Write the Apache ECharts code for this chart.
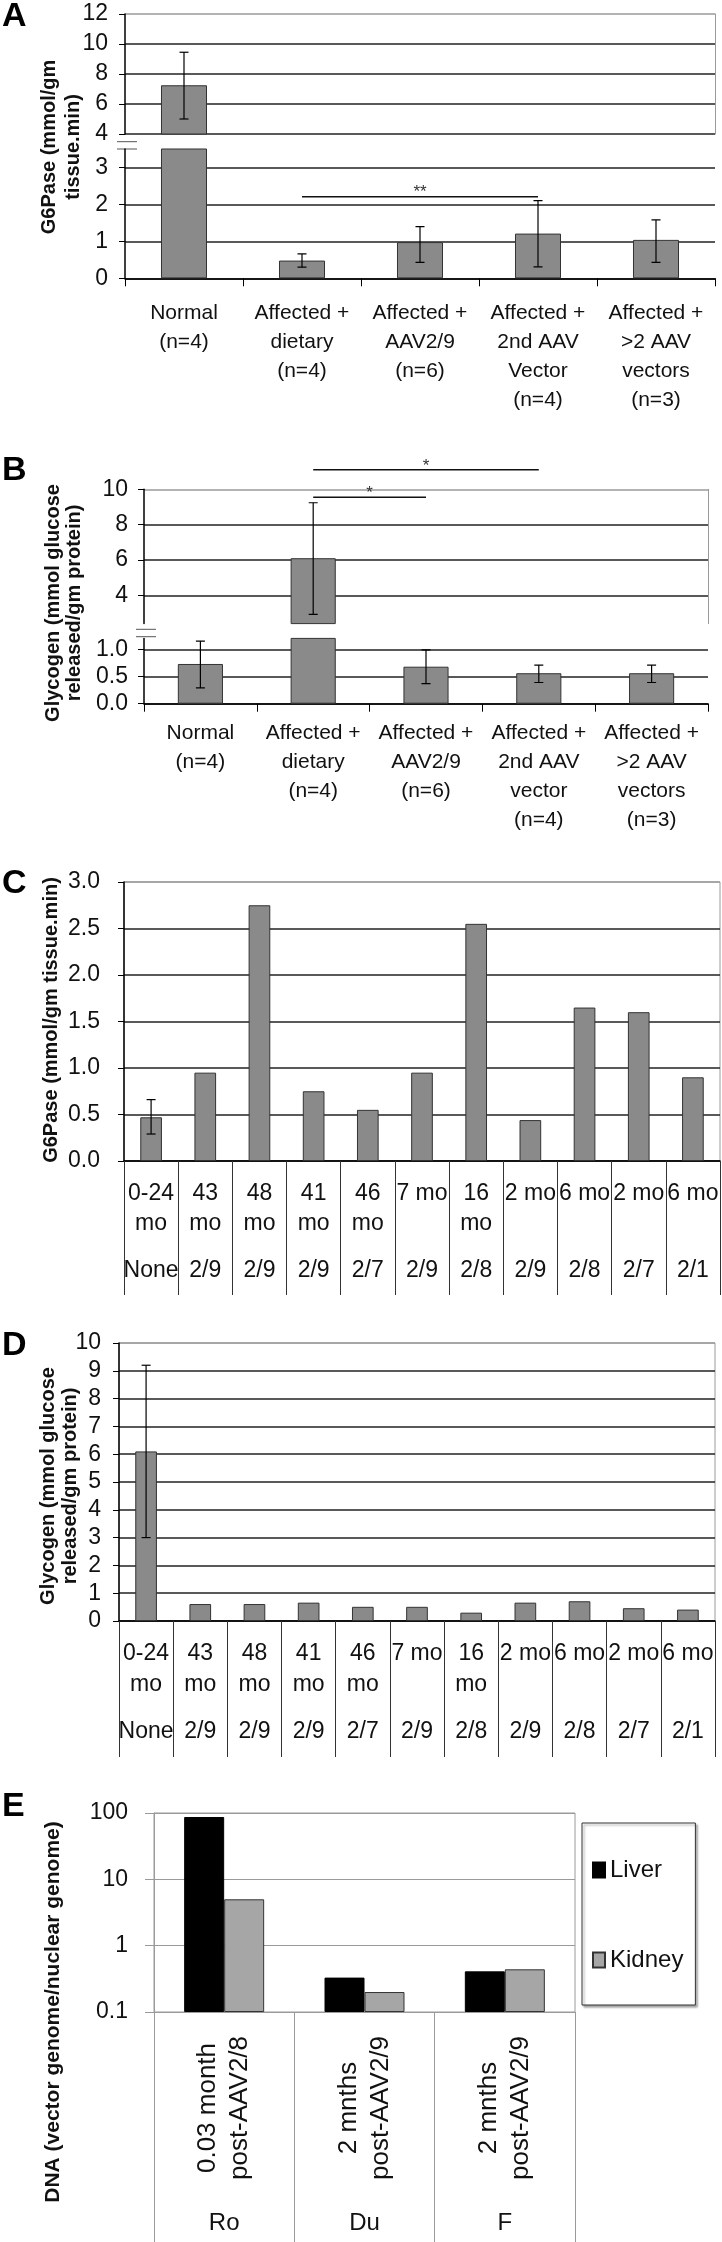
<!DOCTYPE html>
<html><head><meta charset="utf-8">
<script src="https://cdn.jsdelivr.net/npm/echarts@6/dist/echarts.min.js"></script>
<style>html,body{margin:0;padding:0;background:#fff}#c{width:722px;height:2242px}</style>
</head><body><div id="c"></div>
<script>
// ---------- DATA ----------
// Panel A: G6Pase
const groupsA = ['Normal\n(n=4)','Affected +\ndietary\n(n=4)','Affected +\nAAV2/9\n(n=6)','Affected +\n2nd AAV\nVector\n(n=4)','Affected +\n>2 AAV\nvectors\n(n=3)'];
const g6paseA = [7.25, 0.48, 0.98, 1.21, 1.04];
const g6paseA_low = [5.0, 0.30, 0.43, 0.31, 0.43];
const g6paseA_high = [9.45, 0.66, 1.40, 2.10, 1.58];
const sigA = [[1, 3, 2.21]];
const sigA_labels = ['**'];
const ticksA_upper = [4, 6, 8, 10, 12];
const ticksA_lower = [0, 1, 2, 3];
// Panel B: Glycogen
const groupsB = ['Normal\n(n=4)','Affected +\ndietary\n(n=4)','Affected +\nAAV2/9\n(n=6)','Affected +\n2nd AAV\nvector\n(n=4)','Affected +\n>2 AAV\nvectors\n(n=3)'];
const glycoB = [0.73, 6.1, 0.68, 0.56, 0.56];
const glycoB_low = [0.29, 2.92, 0.37, 0.39, 0.39];
const glycoB_high = [1.15, 9.24, 0.99, 0.71, 0.71];
const sigB = [[1, 3, 11.1], [1, 2, 9.55]];
const sigB_labels = ['*', '*'];
const ticksB_upper = [4, 6, 8, 10];
const ticksB_lower = [0, 0.5, 1.0];
// Panel C: G6Pase per animal
const agesCD = ['0-24\nmo','43\nmo','48\nmo','41\nmo','46\nmo','7 mo','16\nmo','2 mo','6 mo','2 mo','6 mo'];
const vectorsCD = ['None','2/9','2/9','2/9','2/7','2/9','2/8','2/9','2/8','2/7','2/1'];
const g6paseC = [0.47, 0.95, 2.75, 0.75, 0.55, 0.95, 2.55, 0.44, 1.65, 1.60, 0.90];
const errC_index = [0], errC_low = [0.29], errC_high = [0.66];
// Panel D: Glycogen per animal
const glycoD = [6.1, 0.61, 0.61, 0.66, 0.51, 0.51, 0.30, 0.66, 0.71, 0.46, 0.41];
const errD_index = [0], errD_low = [3.0], errD_high = [9.2];
// Panel E: vector DNA
const periodsE = ['0.03 month\npost-AAV2/8', '2 mnths\npost-AAV2/9', '2 mnths\npost-AAV2/9'];
const subjectsE = ['Ro', 'Du', 'F'];
const liverE = [87, 0.33, 0.41];
const kidneyE = [5.0, 0.20, 0.44];

// ---------- STYLE / LAYOUT ----------
const FONT = '"Liberation Sans", Arial, Helvetica, sans-serif';
const BAR = '#8a8a8a', BARB = '#333';
const GL = '#222', GR = '#9a9a9a';
const G = {
  Aup: {left:125, top:14, width:590, height:120},
  Alo: {left:125, top:149, width:590, height:129.3},
  Bup: {left:144, top:489.3, width:564, height:134.3},
  Blo: {left:144, top:638.4, width:564, height:65.3},
  C:   {left:124, top:882, width:596, height:279},
  D:   {left:119, top:1343, width:596, height:278},
  E:   {left:154, top:1813, width:421, height:199}
};
function grid(g, border){ return Object.assign({outerBoundsMode:'none', containLabel:false, show:!!border, borderColor:GR, borderWidth:1, backgroundColor:'transparent'}, g); }

function catAxis(gi, data, opt){
  return Object.assign({type:'category', gridIndex:gi, data:data, position:'bottom',
    axisLine:{show:true, onZero:false, lineStyle:{color:'#000', width:1.5}},
    axisTick:{show:true, length:8, lineStyle:{color:'#000', width:1}},
    axisLabel:{interval:0, fontFamily:FONT, fontSize:21, lineHeight:29, margin:20, color:'#111'},
    splitLine:{show:false}}, opt||{});
}
function valAxis(gi, opt, labelOpt, splitColors){
  return Object.assign({type:'value', gridIndex:gi,
    axisLine:{show:true, onZero:false, lineStyle:{color:'#000', width:1.5}},
    axisTick:{show:true, length:6, lineStyle:{color:'#000', width:1}},
    axisLabel:Object.assign({fontFamily:FONT, fontSize:23, margin:16, color:'#111'}, labelOpt||{}),
    splitLine:{show:true, lineStyle:{color:splitColors, width:1.5}}}, opt);
}
function borderAxis(gi){
  return {type:'value', gridIndex:gi, position:'right', min:0, max:1,
    axisLine:{show:true, onZero:false, lineStyle:{color:GR, width:1}},
    axisTick:{show:false}, axisLabel:{show:false}, splitLine:{show:false}};
}
function errData(idx, lo, hi){ return idx.map((i,k)=>[i, lo[k], hi[k]]); }
function errRender(params, api){
  const x = api.value(0), lo = api.value(1), hi = api.value(2);
  const p1 = api.coord([x, hi]), p2 = api.coord([x, lo]);
  const w = 4.5, st = {stroke:'#000', lineWidth:1.2, fill:null};
  return {type:'group', children:[
    {type:'line', shape:{x1:p1[0], y1:p1[1], x2:p2[0], y2:p2[1]}, style:st},
    {type:'line', shape:{x1:p1[0]-w, y1:p1[1], x2:p1[0]+w, y2:p1[1]}, style:st},
    {type:'line', shape:{x1:p2[0]-w, y1:p2[1], x2:p2[0]+w, y2:p2[1]}, style:st}
  ]};
}
function sigRender(labels){
  return function(params, api){
    const a = api.coord([api.value(0), api.value(2)]);
    const b = api.coord([api.value(1), api.value(2)]);
    return {type:'group', children:[
      {type:'line', shape:{x1:a[0], y1:a[1], x2:b[0], y2:b[1]}, style:{stroke:'#111', lineWidth:1.5}},
      {type:'text', x:(a[0]+b[0])/2, y:a[1]-4, style:{text:labels[params.dataIndex], fill:'#333', font:'17px '+FONT, align:'center', verticalAlign:'middle', textAlign:'center', textVerticalAlign:'middle'}}
    ]};
  };
}
function barSeries(xi, yi, data, extra){
  return Object.assign({type:'bar', xAxisIndex:xi, yAxisIndex:yi, data:data, clip:true, barWidth:'39%',
    itemStyle:{color:BAR, borderColor:BARB, borderWidth:1}, silent:true}, extra||{});
}
function errSeries(xi, yi, data){
  return {type:'custom', xAxisIndex:xi, yAxisIndex:yi, data:data, renderItem:errRender, clip:true, silent:true, z:5};
}

const option = {
  animation:false,
  backgroundColor:'#fff',
  grid:[grid(G.Aup,false), grid(G.Alo,false), grid(G.Bup,false), grid(G.Blo,false), grid(G.C,true), grid(G.D,true), grid(G.E,true)],
  xAxis:[
    catAxis(0, groupsA, {show:false}),
    catAxis(1, groupsA),
    catAxis(2, groupsB, {show:false}),
    catAxis(3, groupsB, {axisLabel:{interval:0, fontFamily:FONT, fontSize:21, lineHeight:29, margin:15, color:'#111'}}),
    catAxis(4, agesCD, {axisTick:{show:true, length:134, lineStyle:{color:'#333', width:1}},
      axisLabel:{interval:0, fontFamily:FONT, fontSize:23, lineHeight:30, margin:18, color:'#111'}}),
    catAxis(4, vectorsCD, {axisLine:{show:false}, axisTick:{show:false},
      axisLabel:{interval:0, fontFamily:FONT, fontSize:23, lineHeight:30, margin:95, color:'#111'}}),
    catAxis(5, agesCD, {axisTick:{show:true, length:136, lineStyle:{color:'#333', width:1}},
      axisLabel:{interval:0, fontFamily:FONT, fontSize:23, lineHeight:31, margin:17, color:'#111'}}),
    catAxis(5, vectorsCD, {axisLine:{show:false}, axisTick:{show:false},
      axisLabel:{interval:0, fontFamily:FONT, fontSize:23, lineHeight:30, margin:96, color:'#111'}}),
    catAxis(6, periodsE, {axisLine:{show:true, onZero:false, lineStyle:{color:GR, width:1}},
      axisTick:{show:true, length:230, lineStyle:{color:GR, width:1}},
      axisLabel:{interval:0, rotate:90, align:'center', verticalAlign:'middle', fontFamily:FONT, fontSize:26, lineHeight:32, margin:96, color:'#111'}}),
    catAxis(6, subjectsE, {axisLine:{show:false}, axisTick:{show:false},
      axisLabel:{interval:0, fontFamily:FONT, fontSize:24, lineHeight:28, margin:197, color:'#111'}})
  ],
  yAxis:[
    valAxis(0, {min:4, max:12, interval:2}, {fontSize:23, margin:17}, [GL,GL,GL,GL,GR]),
    borderAxis(0),
    valAxis(1, {min:0, max:3.5, axisTick:{show:true, length:6, customValues:ticksA_lower, lineStyle:{color:'#000'}}}, {fontSize:23, margin:17, customValues:ticksA_lower}, [GL,GL,GL,GL,'rgba(0,0,0,0)']),
    valAxis(2, {min:2.4, max:10, axisTick:{show:true, length:6, customValues:ticksB_upper, lineStyle:{color:'#000'}}}, {fontSize:23, margin:16, customValues:ticksB_upper}, [GL,GL,GL,GR]),
    borderAxis(2),
    valAxis(3, {min:0, max:1.2, axisTick:{show:true, length:6, customValues:ticksB_lower, lineStyle:{color:'#000'}}}, {fontSize:23, margin:16, customValues:ticksB_lower, formatter:v=>v.toFixed(1)}, [GL,GL,GL,'rgba(0,0,0,0)']),
    valAxis(4, {min:0, max:3, interval:0.5}, {fontSize:23, margin:24, formatter:v=>v.toFixed(1)}, [GL,GL,GL,GL,GL,GL,GR]),
    valAxis(5, {min:0, max:10, interval:1}, {fontSize:23, margin:18}, [GL,GL,GL,GL,GL,GL,GL,GL,GL,GL,GR]),
    {type:'log', gridIndex:6, logBase:10, min:0.1, max:100, startValue:0.1,
      axisLine:{show:true, onZero:false, lineStyle:{color:GR, width:1}},
      axisTick:{show:true, length:9, lineStyle:{color:GR}},
      axisLabel:{fontFamily:FONT, fontSize:23, margin:26, color:'#111', formatter:v=>String(+(+v).toPrecision(3))},
      splitLine:{show:true, lineStyle:{color:GR, width:1}}, minorTick:{show:false}}
  ],
  legend:{orient:'vertical', left:582, top:1823, data:['Liver','Kidney'], icon:'rect', itemWidth:12, itemHeight:15, itemGap:60,
    padding:[32,12,30,10], borderColor:'#333', borderWidth:1, backgroundColor:'#fff',
    shadowColor:'rgba(0,0,0,0.35)', shadowBlur:2, shadowOffsetX:2, shadowOffsetY:2,
    textStyle:{fontFamily:FONT, fontSize:24, lineHeight:30, color:'#111'}, selectedMode:false},
  series:[
    barSeries(0, 0, g6paseA),
    barSeries(1, 2, g6paseA),
    errSeries(0, 0, errData([0,1,2,3,4], g6paseA_low, g6paseA_high)),
    errSeries(1, 2, errData([0,1,2,3,4], g6paseA_low, g6paseA_high)),
    {type:'custom', xAxisIndex:1, yAxisIndex:2, data:sigA, renderItem:sigRender(sigA_labels), clip:false, silent:true, z:6},
    barSeries(2, 3, glycoB, {barWidth:'40%'}),
    barSeries(3, 5, glycoB, {barWidth:'40%'}),
    errSeries(2, 3, errData([0,1,2,3,4], glycoB_low, glycoB_high)),
    errSeries(3, 5, errData([0,1,2,3,4], glycoB_low, glycoB_high)),
    {type:'custom', xAxisIndex:2, yAxisIndex:3, data:sigB, renderItem:sigRender(sigB_labels), clip:false, silent:true, z:6},
    barSeries(4, 6, g6paseC, {barWidth:'40%'}),
    errSeries(4, 6, errData(errC_index, errC_low, errC_high)),
    barSeries(6, 7, glycoD, {barWidth:'40%'}),
    errSeries(6, 7, errData(errD_index, errD_low, errD_high)),
    {type:'bar', name:'Liver', xAxisIndex:8, yAxisIndex:8, data:liverE, barWidth:'28.5%', barGap:'0%', clip:true,
      itemStyle:{color:'#000', borderColor:'#000', borderWidth:1}, silent:true},
    {type:'bar', name:'Kidney', xAxisIndex:8, yAxisIndex:8, data:kidneyE, barWidth:'28.5%', barGap:'0%', clip:true,
      itemStyle:{color:'#a6a6a6', borderColor:'#333', borderWidth:1}, silent:true}
  ],
  graphic:[]
};

const R = Math.PI/2;
const gfx = [];
// panel letters
[['A',17],['B',470.5],['C',883.5],['D',1346],['E',1807]].forEach(([t,y])=>{
  gfx.push({type:'text', x:2, y:y, silent:true,
    style:{text:t, font:'bold 34px '+FONT, fill:'#000', align:'left', verticalAlign:'middle', textAlign:'left', textVerticalAlign:'middle'}});
});
// y-axis titles
function ytitle(x, y, text, size, lh){
  gfx.push({type:'text', x:x, y:y, rotation:R, silent:true,
    style:{text:text, font:'bold '+size+'px '+FONT, lineHeight:lh, fill:'#111', align:'center', verticalAlign:'middle', textAlign:'center', textVerticalAlign:'middle'}});
}
ytitle(61, 147, 'G6Pase (mmol/gm\ntissue.min)', 20, 24);
ytitle(63.5, 603, 'Glycogen (mmol glucose\nreleased/gm protein)', 20, 21);
ytitle(51, 1020, 'G6Pase (mmol/gm tissue.min)', 20, 24);
ytitle(59, 1486, 'Glycogen (mmol glucose\nreleased/gm protein)', 20, 22);
ytitle(53, 2012, 'DNA (vector genome/nuclear genome)', 21, 24);
// axis break marks
function brk(xAxisLeft, yA, yB){
  [yA, yB].forEach(y=>gfx.push({type:'line', silent:true, shape:{x1:xAxisLeft-8, y1:y, x2:xAxisLeft+12, y2:y}, style:{stroke:'#555', lineWidth:1}}));
}
brk(G.Aup.left, G.Aup.top+G.Aup.height+7.7, G.Alo.top);
brk(G.Bup.left, G.Bup.top+G.Bup.height+5.7, G.Blo.top-1.7);
option.graphic = gfx;

const chart = echarts.init(document.getElementById('c'), null, {renderer:'canvas', width:722, height:2242});
chart.setOption(option);
</script>
</body></html>
